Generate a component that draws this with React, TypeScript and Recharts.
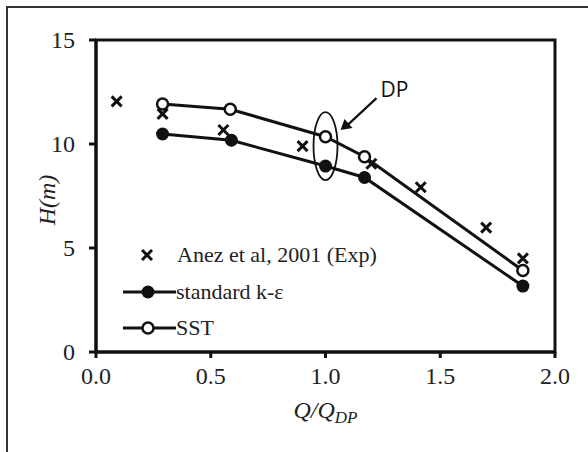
import React from "react";
import {
  ComposedChart,
  Scatter,
  XAxis,
  YAxis,
  ReferenceArea,
  ReferenceDot,
} from "recharts";

// Q/Q_DP vs head H (m)
const expQ = [0.09, 0.29, 0.555, 0.9, 1.2, 1.415, 1.7, 1.86];
const expH = [12.05, 11.45, 10.67, 9.9, 9.05, 7.92, 5.98, 4.5];

const keQ = [0.29, 0.59, 1.0, 1.17, 1.86];
const keH = [10.48, 10.18, 8.94, 8.39, 3.17];

const sstQ = [0.29, 0.585, 1.0, 1.17, 1.86];
const sstH = [11.92, 11.67, 10.35, 9.39, 3.92];

const xTicks = [0, 0.5, 1.0, 1.5, 2.0];
const yTicks = [0, 5, 10, 15];

const toPoints = (qs: number[], hs: number[]) => qs.map((q, i) => ({ q, h: hs[i] }));

const expData = toPoints(expQ, expH);
const keData = toPoints(keQ, keH);
const sstData = toPoints(sstQ, sstH);

const SERIF = "Liberation Serif, Times New Roman, serif";
const INK = "#111";
const TXT = "#222";

const Cross = (props: any) => {
  const { cx, cy } = props;
  const s = 5;
  return (
    <g stroke={INK} strokeWidth={3}>
      <line x1={cx - s} y1={cy - s} x2={cx + s} y2={cy + s} />
      <line x1={cx - s} y1={cy + s} x2={cx + s} y2={cy - s} />
    </g>
  );
};

const FilledDot = (props: any) => <circle cx={props.cx} cy={props.cy} r={6.5} fill={INK} />;
const OpenDot = (props: any) => (
  <circle cx={props.cx} cy={props.cy} r={5.5} fill="#fff" stroke={INK} strokeWidth={2.5} />
);

const XTick = (props: any) => {
  const { x, y, payload } = props;
  return (
    <text x={x} y={y + 18} textAnchor="middle" style={{ fontFamily: SERIF, fontSize: 24 }} fill={TXT}>
      {payload.value.toFixed(1)}
    </text>
  );
};

const YTick = (props: any) => {
  const { x, y, payload } = props;
  return (
    <text x={x} y={y + 8} textAnchor="end" style={{ fontFamily: SERIF, fontSize: 24 }} fill={TXT}>
      {payload.value}
    </text>
  );
};

// ellipse around design point + arrow with "DP"
const DpMark = (props: any) => {
  const { cx, cy } = props;
  return (
    <g>
      <ellipse cx={cx} cy={cy} rx={12} ry={34} fill="none" stroke={INK} strokeWidth={1.8} />
      <line x1={cx + 51} y1={cy - 48} x2={cx + 22} y2={cy - 21} stroke={INK} strokeWidth={2.2} />
      <polygon
        points={`${cx + 15},${cy - 16} ${cx + 19},${cy - 27} ${cx + 27},${cy - 18}`}
        fill={INK}
      />
      <text x={cx + 55} y={cy - 49} style={{ fontFamily: "Open Sans, Noto Sans, sans-serif", fontSize: 21 }} fill={INK}>
        DP
      </text>
    </g>
  );
};

const LegendBox = () => (
  <svg width={588} height={452} style={{ position: "absolute", left: 0, top: 0, pointerEvents: "none" }}>
    <Cross cx={147} cy={255} />
    <text x={177} y={262} style={{ fontFamily: SERIF, fontSize: 22 }} fill={TXT}>
      Anez et al, 2001 (Exp)
    </text>
    <line x1={123} y1={292} x2={176} y2={292} stroke={INK} strokeWidth={3} />
    <FilledDot cx={148} cy={292} />
    <text x={176} y={299} style={{ fontFamily: SERIF, fontSize: 22 }} fill={TXT}>
      standard k-ε
    </text>
    <line x1={123} y1={328} x2={176} y2={328} stroke={INK} strokeWidth={3} />
    <OpenDot cx={148} cy={328} />
    <text x={176} y={335} style={{ fontFamily: SERIF, fontSize: 22 }} fill={TXT}>
      SST
    </text>
  </svg>
);

export default function App() {
  return (
    <div style={{ position: "absolute", left: 0, top: 0, width: 588, height: 452, background: "#fff" }}>
      <div
        style={{
          position: "absolute",
          left: 6,
          top: 6,
          width: 582,
          height: 446,
          borderLeft: "2px solid #333",
          borderTop: "2px solid #333",
          boxSizing: "border-box",
        }}
      />
      <div style={{ position: "absolute", left: 0, top: 0 }}>
        <ComposedChart width={588} height={452} margin={{ top: 40, right: 33, bottom: 60, left: 56 }}>
          <XAxis
            type="number"
            dataKey="q"
            domain={[0, 2]}
            ticks={xTicks}
            axisLine={{ stroke: INK, strokeWidth: 3 }}
            tickLine={{ stroke: INK, strokeWidth: 3 }}
            tickSize={6}
            tickMargin={8}
            height={40}
            tick={<XTick />}
            label={(p: any) => {
              const vb = p.viewBox;
              return (
                <text
                  x={vb.x + vb.width / 2}
                  y={418}
                  textAnchor="middle"
                  style={{ fontFamily: SERIF, fontStyle: "italic", fontSize: 24 }}
                  fill={TXT}
                >
                  Q/Q
                  <tspan style={{ fontSize: 17 }} dy={5}>DP</tspan>
                </text>
              );
            }}
          />
          <YAxis
            type="number"
            dataKey="h"
            domain={[0, 15]}
            ticks={yTicks}
            axisLine={{ stroke: INK, strokeWidth: 3 }}
            tickLine={{ stroke: INK, strokeWidth: 3 }}
            tickSize={7}
            tickMargin={14}
            width={40}
            tick={<YTick />}
            label={() => (
              <text
                x={55}
                y={200}
                textAnchor="middle"
                transform="rotate(-90, 55, 200)"
                style={{ fontFamily: SERIF, fontStyle: "italic", fontSize: 24 }}
                fill={TXT}
              >
                H(m)
              </text>
            )}
          />
          <ReferenceArea x1={0} x2={2} y1={0} y2={15} fill="none" stroke={INK} strokeWidth={3} ifOverflow="visible" />
          <Scatter name="Anez et al, 2001 (Exp)" data={expData} shape={Cross} isAnimationActive={false} />
          <Scatter
            name="standard k-ε"
            data={keData}
            line={{ stroke: INK, strokeWidth: 3 }}
            lineType="joint"
            shape={FilledDot}
            isAnimationActive={false}
          />
          <Scatter
            name="SST"
            data={sstData}
            line={{ stroke: INK, strokeWidth: 3 }}
            lineType="joint"
            shape={OpenDot}
            isAnimationActive={false}
          />
          <ReferenceDot x={1.0} y={9.9} r={0} shape={DpMark} ifOverflow="visible" />
        </ComposedChart>
      </div>
      <LegendBox />
    </div>
  );
}
